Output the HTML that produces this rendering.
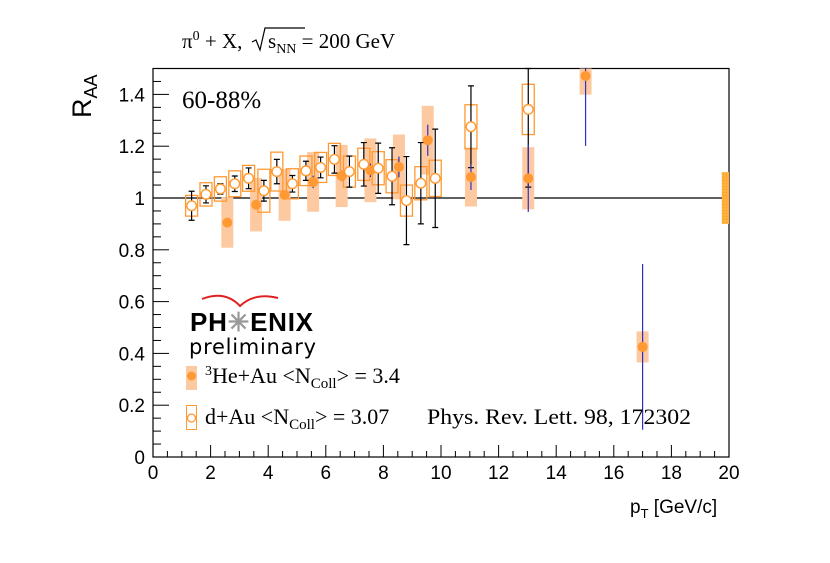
<!DOCTYPE html>
<html><head><meta charset="utf-8"><style>
body{margin:0;background:#fff}
svg{display:block;font-family:"Liberation Serif",serif}
</style></head><body>
<svg id="chart" width="830" height="563" viewBox="0 0 830 563" xmlns="http://www.w3.org/2000/svg">
<defs>
<pattern id="hatch" width="3" height="3" patternUnits="userSpaceOnUse">
<rect width="3" height="3" fill="#ffb040"/><rect width="1" height="1" fill="#ff9a00"/>
</pattern>
</defs>
<g id="axes"></g>
<g id="marks"></g>
<text x="182" y="48" font-size="21">π<tspan font-size="14" dy="-8">0</tspan><tspan dy="8"> + X, </tspan></text>
<text x="268" y="48" font-size="21"><tspan>s</tspan><tspan font-size="14" dy="5">NN</tspan><tspan dy="-5"> = 200 GeV</tspan></text>
<path d="M252 42 l4 -2 l4 10 l5 -22 h40" fill="none" stroke="#000" stroke-width="1.2"/>
<text transform="translate(91,118) rotate(-90)" font-family="Liberation Sans, sans-serif" font-size="27">R<tspan font-size="18" dy="6">AA</tspan></text>
<text x="630" y="513" font-family="Liberation Sans, sans-serif" font-size="19">p<tspan font-size="13" dy="5">T</tspan><tspan dy="-5"> [GeV/c]</tspan></text>
<text x="182" y="108" font-size="25">60-88%</text>
<path d="M202 299 Q225 290 240 306 Q255 292 278 298" fill="none" stroke="#e02020" stroke-width="2"/>
<text x="190" y="331" font-family="Liberation Sans, sans-serif" font-weight="bold" font-size="26" textLength="123">PH<tspan fill="#999">✳</tspan>ENIX</text>
<text x="189" y="354" font-family="DejaVu Sans, sans-serif" font-size="21" textLength="127">preliminary</text>
<g>
<rect x="186" y="366" width="11" height="24" fill="#fdc9a0"/>
<circle cx="191.5" cy="376" r="4.5" fill="#ff9933"/>
<text x="205" y="383" font-size="22"><tspan font-size="14" dy="-8">3</tspan><tspan dy="8">He+Au &lt;N</tspan><tspan font-size="15" dy="5">Coll</tspan><tspan dy="-5">&gt; = 3.4</tspan></text>
</g>
<g>
<rect x="186.5" y="405.5" width="10" height="24" fill="none" stroke="#ff9933"/>
<circle cx="191.5" cy="418" r="4" fill="#fff" stroke="#ff9933" stroke-width="1.3"/>
<text x="205" y="424" font-size="22">d+Au &lt;N<tspan font-size="15" dy="5">Coll</tspan><tspan dy="-5">&gt; = 3.07</tspan></text>
<text x="427" y="424" font-size="22" textLength="264" lengthAdjust="spacingAndGlyphs">Phys. Rev. Lett. 98, 172302</text>
</g>
</svg>
<script>
const xTicks=[0,2,4,6,8,10,12,14,16,18,20];
const yTicks=[0,0.2,0.4,0.6,0.8,1,1.2,1.4];
const yTickLabels=["0","0.2","0.4","0.6","0.8","1","1.2","1.4"];
const dauPt=[1.34,1.84,2.34,2.84,3.32,3.85,4.3,4.84,5.31,5.82,6.3,6.82,7.32,7.82,8.3,8.8,9.3,9.8,11.04,13.03];
const dauR=[0.97,1.014,1.035,1.055,1.076,1.028,1.102,1.055,1.105,1.118,1.149,1.102,1.13,1.115,1.084,0.99,1.057,1.076,1.275,1.342];
const dauStat=[0.056,0.033,0.02,0.03,0.04,0.04,0.047,0.032,0.037,0.04,0.053,0.06,0.084,0.097,0.11,0.17,0.157,0.19,0.158,0.3];
const dauSys=[0.04,0.045,0.047,0.05,0.05,0.083,0.075,0.058,0.057,0.058,0.062,0.06,0.062,0.064,0.064,0.06,0.064,0.07,0.085,0.097];
const hePt=[2.58,3.58,4.57,5.56,6.55,7.55,8.54,9.54,11.04,13.03,15.02,17.0];
const heR=[0.905,0.974,1.012,1.062,1.085,1.107,1.12,1.223,1.081,1.076,1.471,0.425];
const heStat=[0.01,0.012,0.015,0.024,0.02,0.026,0.04,0.06,0.05,0.13,0.27,0.32];
const heSys=[0.097,0.103,0.1,0.115,0.12,0.123,0.125,0.133,0.114,0.12,0.072,0.06];
const globalUnc=0.1;

const X0=153,X1=729,Y0=457,Ytop=68.5;
const xs=v=>X0+(X1-X0)*v/20;
const ys=v=>Y0-(Y0-Ytop)*v/1.5;
const NS="http://www.w3.org/2000/svg";
function mk(parent,tag,attrs){const e=document.createElementNS(NS,tag);for(const k in attrs)e.setAttribute(k,attrs[k]);parent.appendChild(e);return e;}
const ax=document.getElementById('axes'), mg=document.getElementById('marks');
const clipY=v=>Math.max(Ytop,Math.min(Y0,v));

let u=mk(ax,'line',{x1:X0,x2:X1,y1:ys(1),y2:ys(1),stroke:'#000','stroke-width':1.2});


let g=mk(mg,'rect',{x:xs(19.75),y:ys(1+globalUnc),width:xs(20)-xs(19.75),height:ys(1-globalUnc)-ys(1+globalUnc),fill:'url(#hatch)'});



hePt.forEach((p,i)=>{
  const top=clipY(ys(heR[i]+heSys[i])),bot=clipY(ys(heR[i]-heSys[i]));
  const r=mk(mg,'rect',{x:xs(p)-6,y:top,width:12,height:bot-top,fill:'#fdc9a0'});
  
  
});
dauPt.forEach((p,i)=>{
  const x=xs(p);
  const b=mk(mg,'rect',{x:x-6,y:ys(dauR[i]+dauSys[i]),width:12,height:ys(dauR[i]-dauSys[i])-ys(dauR[i]+dauSys[i]),fill:'none',stroke:'#ff9933','stroke-width':1.3});
  
  
  const t=clipY(ys(dauR[i]+dauStat[i])),bo=clipY(ys(dauR[i]-dauStat[i]));
  const e=mk(mg,'path',{d:`M${x} ${t}V${bo}M${x-3} ${t}h6M${x-3} ${bo}h6`,stroke:'#000','stroke-width':1.2,fill:'none'});
  
  
});
hePt.forEach((p,i)=>{
  const x=xs(p);
  const e=mk(mg,'line',{x1:x,x2:x,y1:clipY(ys(heR[i]+heStat[i])),y2:clipY(ys(heR[i]-heStat[i])),stroke:'#3030c0','stroke-width':1.2});
  
  
  const c=mk(mg,'circle',{cx:x,cy:ys(heR[i]),r:5,fill:'#ff9933'});
  
  
});
dauPt.forEach((p,i)=>{
  const c=mk(mg,'circle',{cx:xs(p),cy:ys(dauR[i]),r:4.8,fill:'#fff',stroke:'#ff9933','stroke-width':1.4});
  
  
});

let f=mk(ax,'rect',{x:X0,y:Ytop,width:X1-X0,height:Y0-Ytop,fill:'none',stroke:'#000','stroke-width':1.2});


for(let v=0;v<=1.5001;v+=0.05){
  const major=Math.abs(v*5-Math.round(v*5))<1e-6;
  mk(ax,'line',{x1:X0,x2:X0+(major?16:8),y1:ys(v),y2:ys(v),stroke:'#000','stroke-width':1});
}
yTicks.forEach((v,i)=>{
  const t=mk(ax,'text',{x:X0-8,y:ys(v)+7,'text-anchor':'end','font-family':'Liberation Sans, sans-serif','font-size':19});
  t.textContent=yTickLabels[i];
  
  
});
for(let v=0;v<=20.001;v+=0.5){
  const major=Math.abs(v/2-Math.round(v/2))<1e-6;
  mk(ax,'line',{x1:xs(v),x2:xs(v),y1:Y0,y2:Y0-(major?12:6),stroke:'#000','stroke-width':1});
}
xTicks.forEach(v=>{
  const t=mk(ax,'text',{x:xs(v),y:Y0+22,'text-anchor':'middle','font-family':'Liberation Sans, sans-serif','font-size':19});
  t.textContent=String(v);
  
  
});
</script>
</body></html>
